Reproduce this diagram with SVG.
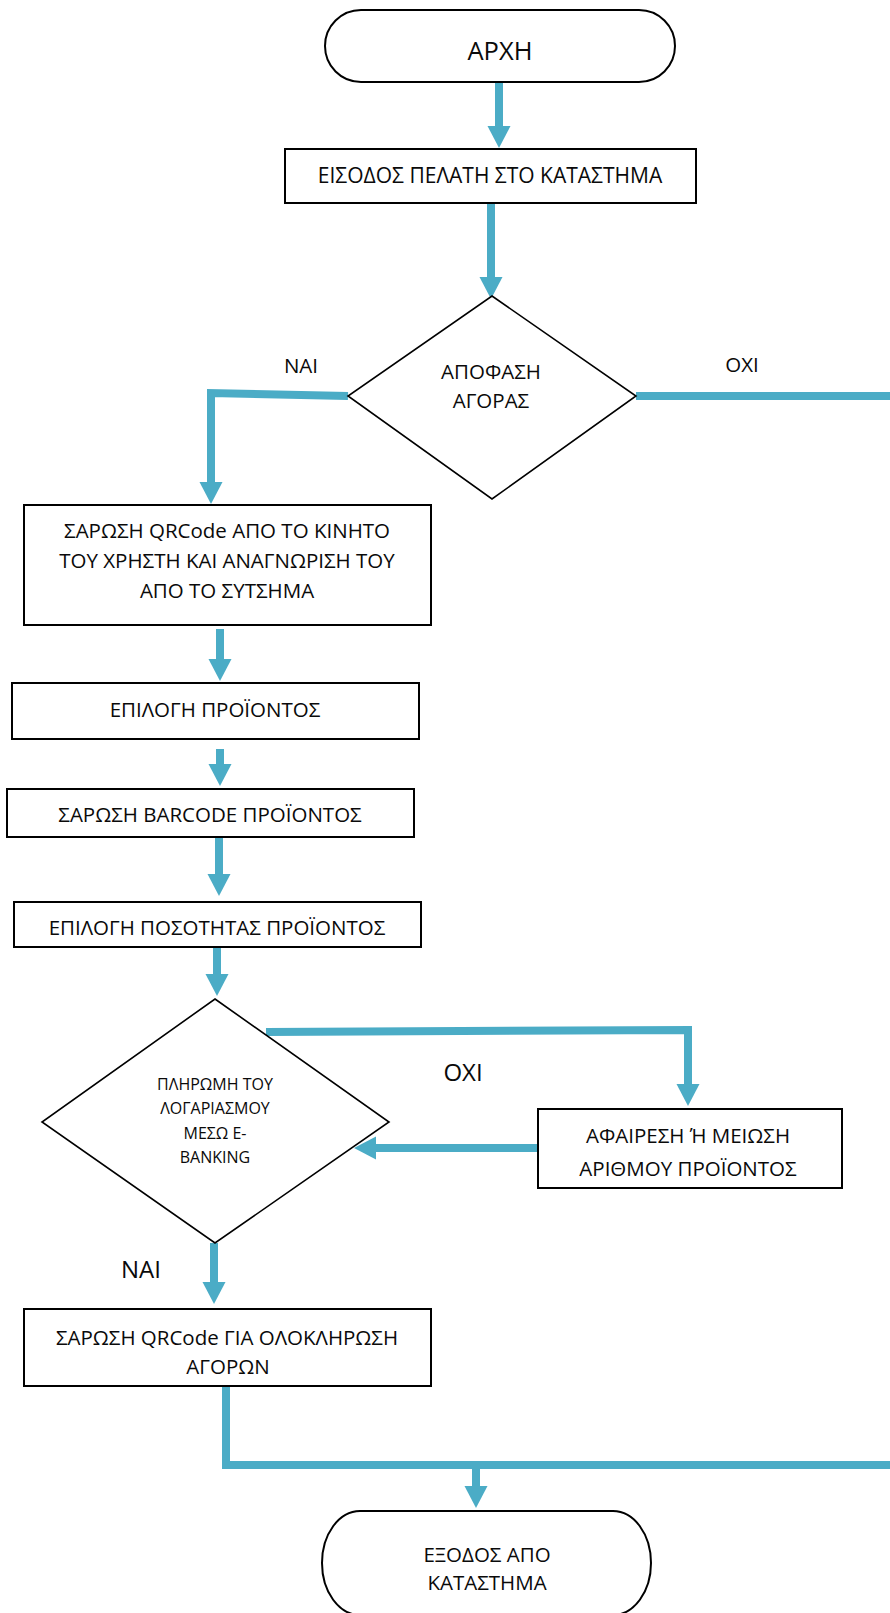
<svg xmlns="http://www.w3.org/2000/svg" width="890" height="1613" viewBox="0 0 890 1613">
  <style>
    .shape { fill: #ffffff; stroke: #000000; stroke-width: 2; }
    .dec { fill: #ffffff; stroke: #000000; stroke-width: 1.6; }
    .flow { fill: none; stroke: #4BACC6; stroke-width: 8; stroke-linejoin: miter; }
    .lbl { font-family: "Open Sans", "Liberation Sans", sans-serif; fill: #0a0a0a; text-anchor: middle; }
    .t20 { font-size: 20.5px; }
    .t21 { font-size: 21px; }
    .t16 { font-size: 16px; }
    .t24 { font-size: 24px; }
    .t25 { font-size: 25.5px; }
  </style>
  <defs>
    <marker id="head" markerUnits="userSpaceOnUse" markerWidth="26" markerHeight="26" viewBox="0 -13 26 26" refX="1" refY="0" orient="auto" overflow="visible">
      <path d="M0,-11.5 L22,0 L0,11.5 Z" fill="#4BACC6"/>
    </marker>
  </defs>

  <rect width="890" height="1613" fill="#ffffff"/>

  <!-- connectors -->
  <g id="connectors">
    <line class="flow" x1="499" y1="80" x2="499" y2="127" marker-end="url(#head)"/>
    <line class="flow" x1="491" y1="203" x2="491" y2="278" marker-end="url(#head)"/>
    <polyline class="flow" points="348,396 211,393 211,483" marker-end="url(#head)"/>
    <line class="flow" x1="636" y1="396" x2="892" y2="396"/>
    <line class="flow" x1="220" y1="629" x2="220" y2="660" marker-end="url(#head)"/>
    <line class="flow" x1="220" y1="749" x2="220" y2="765" marker-end="url(#head)"/>
    <line class="flow" x1="219" y1="837" x2="219" y2="875" marker-end="url(#head)"/>
    <line class="flow" x1="217" y1="947" x2="217" y2="975" marker-end="url(#head)"/>
    <polyline class="flow" points="266,1032 688,1030 688,1085" marker-end="url(#head)"/>
    <line class="flow" x1="538" y1="1148" x2="375" y2="1148" marker-end="url(#head)"/>
    <line class="flow" x1="214" y1="1243" x2="214" y2="1283" marker-end="url(#head)"/>
    <polyline class="flow" points="226,1386 226,1465 892,1465"/>
    <line class="flow" x1="476" y1="1465" x2="476" y2="1487" marker-end="url(#head)"/>
  </g>

  <!-- start -->
  <g id="start">
    <rect class="shape" x="325" y="10" width="350" height="72" rx="36" ry="36"/>
    <text class="lbl t25" x="500" y="60">ΑΡΧΗ</text>
  </g>

  <g id="enter-store">
    <rect class="shape" x="285" y="149" width="411" height="54"/>
    <text class="lbl t21" x="490" y="183">ΕΙΣΟΔΟΣ ΠΕΛΑΤΗ ΣΤΟ ΚΑΤΑΣΤΗΜΑ</text>
  </g>

  <g id="purchase-decision">
    <polygon class="dec" points="492,296 636,396 492,499 348,396"/>
    <text class="lbl t20" x="491" y="379">ΑΠΟΦΑΣΗ</text>
    <text class="lbl t20" x="491" y="408">ΑΓΟΡΑΣ</text>
  </g>

  <g id="labels-top">
    <text class="lbl t20" x="301" y="373">ΝΑΙ</text>
    <text class="lbl t20" x="742" y="372">ΟΧΙ</text>
  </g>

  <g id="scan-user">
    <rect class="shape" x="24" y="505" width="407" height="120"/>
    <text class="lbl t20" x="227" y="538">ΣΑΡΩΣΗ QRCode ΑΠΟ ΤΟ ΚΙΝΗΤΟ</text>
    <text class="lbl t20" x="227" y="568">ΤΟΥ ΧΡΗΣΤΗ ΚΑΙ ΑΝΑΓΝΩΡΙΣΗ ΤΟΥ</text>
    <text class="lbl t20" x="227" y="598">ΑΠΟ ΤΟ ΣΥΤΣΗΜΑ</text>
  </g>

  <g id="select-product">
    <rect class="shape" x="12" y="683" width="407" height="56"/>
    <text class="lbl t20" x="215" y="717">ΕΠΙΛΟΓΗ ΠΡΟΪΟΝΤΟΣ</text>
  </g>

  <g id="scan-barcode">
    <rect class="shape" x="7" y="789" width="407" height="48"/>
    <text class="lbl t20" x="210" y="822">ΣΑΡΩΣΗ BARCODE ΠΡΟΪΟΝΤΟΣ</text>
  </g>

  <g id="select-quantity">
    <rect class="shape" x="14" y="902" width="407" height="45"/>
    <text class="lbl t20" x="217" y="935">ΕΠΙΛΟΓΗ ΠΟΣΟΤΗΤΑΣ ΠΡΟΪΟΝΤΟΣ</text>
  </g>

  <g id="payment-decision">
    <polygon class="dec" points="215,999 389,1122 215,1243 42,1122"/>
    <text class="lbl t16" x="215" y="1090">ΠΛΗΡΩΜΗ ΤΟΥ</text>
    <text class="lbl t16" x="215" y="1114">ΛΟΓΑΡΙΑΣΜΟΥ</text>
    <text class="lbl t16" x="215" y="1139">ΜΕΣΩ Ε-</text>
    <text class="lbl t16" x="215" y="1163">BANKING</text>
  </g>

  <g id="labels-bottom">
    <text class="lbl t24" x="463" y="1081">ΟΧΙ</text>
    <text class="lbl t24" x="141" y="1278">ΝΑΙ</text>
  </g>

  <g id="remove-product">
    <rect class="shape" x="538" y="1109" width="304" height="79"/>
    <text class="lbl t20" x="688" y="1143">ΑΦΑΙΡΕΣΗ Ή ΜΕΙΩΣΗ</text>
    <text class="lbl t20" x="688" y="1176">ΑΡΙΘΜΟΥ ΠΡΟΪΟΝΤΟΣ</text>
  </g>

  <g id="scan-checkout">
    <rect class="shape" x="24" y="1309" width="407" height="77"/>
    <text class="lbl t20" x="227" y="1345">ΣΑΡΩΣΗ QRCode ΓΙΑ ΟΛΟΚΛΗΡΩΣΗ</text>
    <text class="lbl t20" x="228" y="1374">ΑΓΟΡΩΝ</text>
  </g>

  <g id="exit">
    <rect class="shape" x="322" y="1511" width="329" height="104" rx="38" ry="52"/>
    <text class="lbl t20" x="487" y="1562">ΕΞΟΔΟΣ ΑΠΟ</text>
    <text class="lbl t20" x="487" y="1590">ΚΑΤΑΣΤΗΜΑ</text>
  </g>
</svg>
